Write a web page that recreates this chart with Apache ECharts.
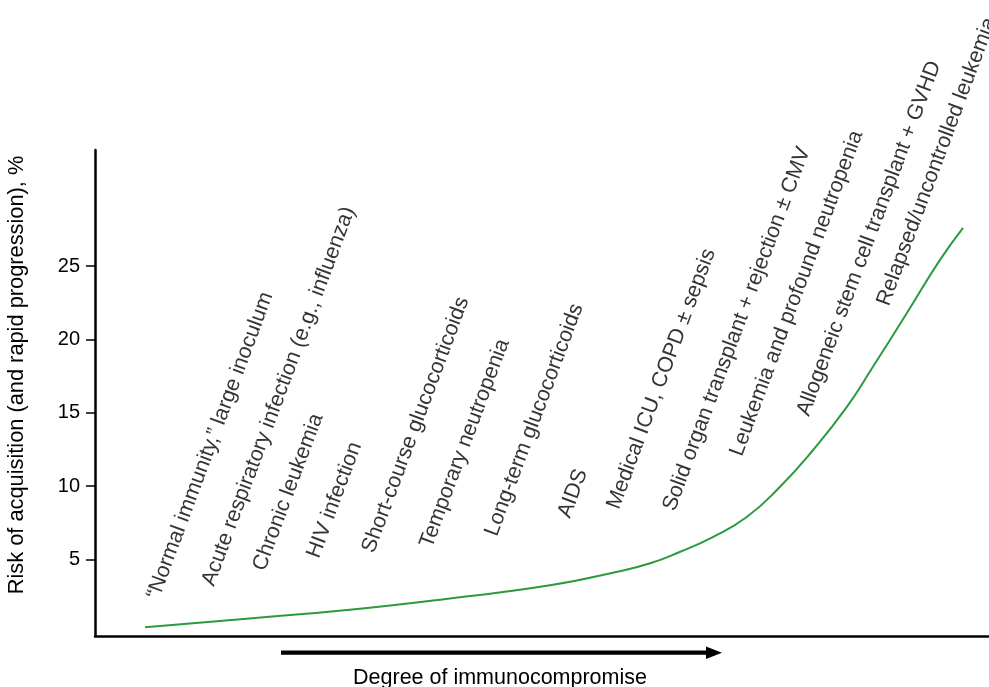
<!DOCTYPE html>
<html>
<head>
<meta charset="utf-8">
<title>Risk of acquisition vs degree of immunocompromise</title>
<script src="https://cdn.jsdelivr.net/npm/echarts@6.0.0/dist/echarts.min.js"></script>
<style>
html, body { margin: 0; padding: 0; background: #fff; }
#chart { width: 989px; height: 687px; }
</style>
</head>
<body>
<div id="chart"></div>
<script>
// curve (x = degree, 0..100 across the axis)
var degree = [5.6, 17.3, 28.5, 39.7, 50.9, 58.3, 62.1, 65.4, 69.1, 72.9, 76.6, 80.3, 84.1, 87.0, 90.8, 94.5, 97.1];
var risk = [0.39, 1.0, 1.59, 2.36, 3.25, 4.16, 4.75, 5.52, 6.54, 7.90, 9.95, 12.45, 15.40, 18.12, 21.78, 25.4, 27.6];

var yTicks = [5, 10, 15, 20, 25];

var conditions = [
    '\u201cNormal immunity,\u201d large inoculum',
    'Acute respiratory infection (e.g., influenza)',
    'Chronic leukemia',
    'HIV infection',
    'Short-course glucocorticoids',
    'Temporary neutropenia',
    'Long-term glucocorticoids',
    'AIDS',
    'Medical ICU, COPD \u00b1 sepsis',
    'Solid organ transplant + rejection \u00b1 CMV',
    'Leukemia and profound neutropenia',
    'Allogeneic stem cell transplant + GVHD',
    'Relapsed/uncontrolled leukemia'
];
// where each condition label starts, in chart units
var labelDegree = [7.66, 13.81, 19.51, 25.56, 31.71, 38.19, 45.47, 53.63, 59.11, 65.38, 72.87, 80.36, 89.31];
var labelRisk = [2.12, 3.01, 4.03, 4.91, 5.26, 5.60, 6.41, 7.64, 8.25, 8.12, 11.86, 14.59, 22.08];

var chartDom = document.getElementById('chart');
var myChart = echarts.init(chartDom);
var font = 'Liberation Sans, Arial, Helvetica, sans-serif';

var curveData = degree.map(function (d, i) {
    return [d, risk[i]];
});
var labelData = conditions.map(function (name, i) {
    return { name: name, value: [labelDegree[i], labelRisk[i]] };
});

var option = {
    animation: false,
    backgroundColor: '#fff',
    textStyle: { fontFamily: font },
    grid: {
        left: 95,
        right: 0,
        top: 150,
        bottom: 51,
        outerBoundsMode: 'none'
    },
    xAxis: {
        type: 'value',
        min: 0,
        max: 100,
        name: 'Degree of immunocompromise',
        nameLocation: 'middle',
        nameGap: 31,
        nameTextStyle: {
            color: '#000',
            fontSize: 21.5,
            fontFamily: font,
            padding: [0, 84, 0, 0]
        },
        axisLine: {
            onZero: false,
            lineStyle: { color: '#000', width: 2.5 }
        },
        axisTick: { show: false },
        axisLabel: { show: false },
        splitLine: { show: false }
    },
    yAxis: {
        type: 'value',
        min: -0.2,
        max: 32.9,
        name: 'Risk of acquisition (and rapid progression), %',
        nameLocation: 'middle',
        nameGap: 67,
        nameTextStyle: {
            color: '#000',
            fontSize: 21.8,
            fontFamily: font,
            padding: [0, 0, 0, 36]
        },
        axisLine: {
            show: true,
            onZero: false,
            lineStyle: { color: '#000', width: 2.5 }
        },
        axisTick: {
            show: true,
            length: 9,
            customValues: yTicks,
            lineStyle: { color: '#000', width: 1.5 }
        },
        axisLabel: {
            show: true,
            margin: 15,
            color: '#000',
            fontSize: 20,
            fontFamily: font,
            customValues: yTicks
        },
        splitLine: { show: false }
    },
    series: [
        {
            type: 'line',
            data: curveData,
            smooth: 0.5,
            showSymbol: false,
            symbol: 'none',
            lineStyle: { color: '#2b9a3e', width: 2 },
            silent: true
        },
        {
            type: 'scatter',
            data: labelData,
            symbolSize: 0,
            silent: true,
            label: {
                show: true,
                position: [0, 0],
                formatter: '{b}',
                rotate: 69.5,
                align: 'left',
                verticalAlign: 'bottom',
                color: '#000',
                fontSize: 21.5,
                fontFamily: font
            }
        }
    ],
    graphic: [
        {
            type: 'rect',
            shape: { x: 281, y: 650.5, width: 428, height: 4.3 },
            style: { fill: '#000' },
            silent: true
        },
        {
            type: 'polygon',
            shape: { points: [[706, 646.5], [722, 652.7], [706, 659]] },
            style: { fill: '#000' },
            silent: true
        }
    ]
};

option && myChart.setOption(option);
window.addEventListener('resize', function () {
    myChart.resize();
});
</script>
</body>
</html>
